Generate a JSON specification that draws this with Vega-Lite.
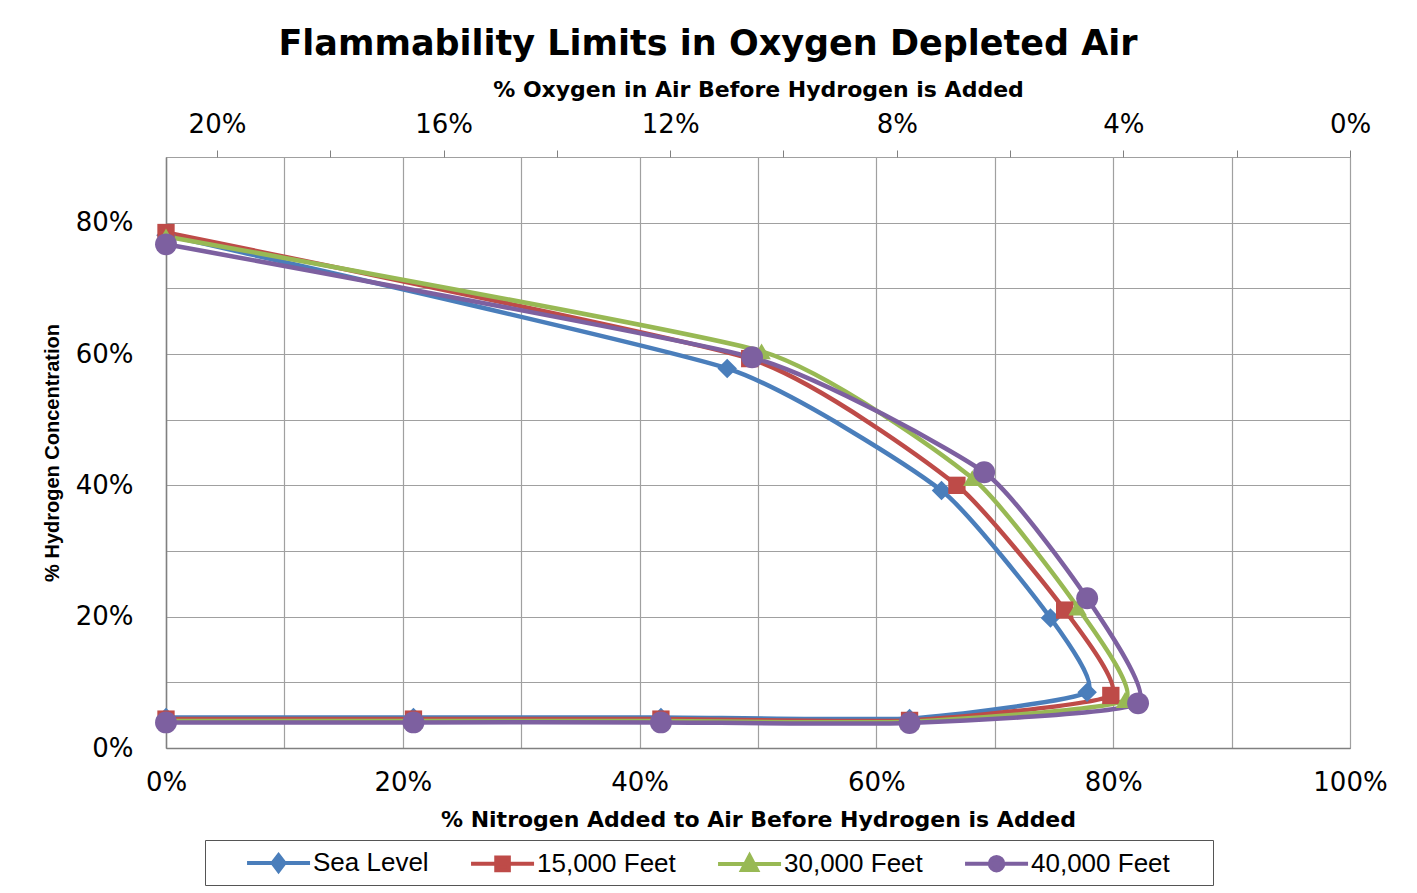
{
  "$schema": "https://vega.github.io/schema/vega-lite/v6.json",
  "width": 1184,
  "height": 591,
  "autosize": {"type": "none"},
  "padding": {"left": 166, "top": 157, "right": 67, "bottom": 145},
  "background": "white",
  "title": {
    "text": "Flammability Limits in Oxygen Depleted Air",
    "font": "DejaVu Sans",
    "fontSize": 35,
    "fontWeight": "bold",
    "color": "#000000",
    "anchor": "middle",
    "dx": -50,
    "offset": 16
  },
  "config": {
    "view": {"stroke": "#a0a0a0", "strokeWidth": 1},
    "axis": {
      "labelFont": "DejaVu Sans",
      "labelFontSize": 26,
      "labelColor": "#000000",
      "titleFont": "DejaVu Sans",
      "titleFontSize": 22,
      "titleFontWeight": "bold",
      "titleColor": "#000000",
      "gridColor": "#a0a0a0",
      "gridWidth": 1.2,
      "domainColor": "#808080",
      "domainWidth": 1.5,
      "tickColor": "#808080"
    },
    "legend": {
      "orient": "none",
      "legendX": 39,
      "legendY": 683,
      "direction": "horizontal",
      "strokeColor": "#555555",
      "fillColor": "#ffffff",
      "padding": 6,
      "labelFont": "Liberation Sans",
      "labelFontSize": 26,
      "labelColor": "#000000",
      "labelLimit": 400,
      "symbolSize": 900,
      "symbolStrokeWidth": 4,
      "labelOffset": 68,
      "columnPadding": 6
    }
  },
  "layer": [
    {
      "data": {
        "values": [
          {"s": "Sea Level", "i": 0, "n": 0, "h": 0.0465},
          {"s": "Sea Level", "i": 1, "n": 0.209, "h": 0.0465},
          {"s": "Sea Level", "i": 2, "n": 0.418, "h": 0.0465},
          {"s": "Sea Level", "i": 3, "n": 0.628, "h": 0.045},
          {"s": "Sea Level", "i": 4, "n": 0.778, "h": 0.085},
          {"s": "Sea Level", "i": 5, "n": 0.747, "h": 0.198},
          {"s": "Sea Level", "i": 6, "n": 0.655, "h": 0.392},
          {"s": "Sea Level", "i": 7, "n": 0.474, "h": 0.578},
          {"s": "Sea Level", "i": 8, "n": 0, "h": 0.781},
          {"s": "15,000 Feet", "i": 0, "n": 0, "h": 0.044},
          {"s": "15,000 Feet", "i": 1, "n": 0.209, "h": 0.044},
          {"s": "15,000 Feet", "i": 2, "n": 0.418, "h": 0.044},
          {"s": "15,000 Feet", "i": 3, "n": 0.628, "h": 0.042},
          {"s": "15,000 Feet", "i": 4, "n": 0.798, "h": 0.08},
          {"s": "15,000 Feet", "i": 5, "n": 0.759, "h": 0.21},
          {"s": "15,000 Feet", "i": 6, "n": 0.668, "h": 0.40},
          {"s": "15,000 Feet", "i": 7, "n": 0.493, "h": 0.593},
          {"s": "15,000 Feet", "i": 8, "n": 0, "h": 0.785},
          {"s": "30,000 Feet", "i": 0, "n": 0, "h": 0.041},
          {"s": "30,000 Feet", "i": 1, "n": 0.209, "h": 0.041},
          {"s": "30,000 Feet", "i": 2, "n": 0.418, "h": 0.041},
          {"s": "30,000 Feet", "i": 3, "n": 0.628, "h": 0.04},
          {"s": "30,000 Feet", "i": 4, "n": 0.81, "h": 0.073},
          {"s": "30,000 Feet", "i": 5, "n": 0.77, "h": 0.214},
          {"s": "30,000 Feet", "i": 6, "n": 0.681, "h": 0.411},
          {"s": "30,000 Feet", "i": 7, "n": 0.503, "h": 0.604},
          {"s": "30,000 Feet", "i": 8, "n": 0, "h": 0.779},
          {"s": "40,000 Feet", "i": 0, "n": 0, "h": 0.039},
          {"s": "40,000 Feet", "i": 1, "n": 0.209, "h": 0.039},
          {"s": "40,000 Feet", "i": 2, "n": 0.418, "h": 0.039},
          {"s": "40,000 Feet", "i": 3, "n": 0.628, "h": 0.038},
          {"s": "40,000 Feet", "i": 4, "n": 0.821, "h": 0.068},
          {"s": "40,000 Feet", "i": 5, "n": 0.778, "h": 0.228},
          {"s": "40,000 Feet", "i": 6, "n": 0.691, "h": 0.42},
          {"s": "40,000 Feet", "i": 7, "n": 0.495, "h": 0.595},
          {"s": "40,000 Feet", "i": 8, "n": 0, "h": 0.767}
        ]
      },
      "encoding": {
        "x": {
          "field": "n",
          "type": "quantitative",
          "scale": {"domain": [0, 1], "nice": false, "zero": false},
          "axis": {
            "orient": "bottom",
            "title": "% Nitrogen Added to Air Before Hydrogen is Added",
            "values": [0, 0.1, 0.2, 0.3, 0.4, 0.5, 0.6, 0.7, 0.8, 0.9, 1],
            "labelExpr": "round(datum.value * 10) % 2 == 0 ? format(datum.value, '.0%') : ''",
            "grid": true,
            "ticks": false,
            "labelPadding": 21,
            "titlePadding": 14,
            "labelFlush": false,
            "labelOverlap": false
          }
        },
        "y": {
          "field": "h",
          "type": "quantitative",
          "scale": {"domain": [0, 0.9], "nice": false, "zero": false},
          "axis": {
            "title": "% Hydrogen Concentration",
            "titleFont": "Liberation Sans",
            "titleFontSize": 20,
            "titlePadding": 13,
            "values": [0, 0.1, 0.2, 0.3, 0.4, 0.5, 0.6, 0.7, 0.8, 0.9],
            "labelExpr": "round(datum.value * 10) % 2 == 0 ? format(datum.value, '.0%') : ''",
            "grid": true,
            "ticks": false,
            "labelPadding": 33,
            "labelFlush": false,
            "labelOverlap": false
          }
        },
        "color": {
          "field": "s",
          "type": "nominal",
          "scale": {
            "domain": ["Sea Level", "15,000 Feet", "30,000 Feet", "40,000 Feet"],
            "range": ["#4A7EBB", "#BE4B48", "#98B954", "#7D60A0"]
          },
          "legend": {
            "title": "\u00a0",
            "titleOrient": "right",
            "titlePadding": 37,
            "titleFontSize": 8,
            "encode": {
              "symbols": {
                "update": {
                  "shape": {"signal": "datum.value == 'Sea Level' ? 'M1.27,0L5.47,0M3.37,-0.52L3.77,0L3.37,0.52L2.97,0Z' : datum.value == '15,000 Feet' ? 'M1.27,0L5.47,0M2.95,-0.42L3.79,-0.42L3.79,0.42L2.95,0.42Z' : datum.value == '30,000 Feet' ? 'M1.27,0L5.47,0M3.37,-0.55L3.87,0.4L2.87,0.4Z' : 'M1.27,0L5.47,0M2.92,0A0.45,0.45 0 1,0 3.82,0A0.45,0.45 0 1,0 2.92,0Z'"},
                  "fill": {"signal": "scale('color', datum.value)"},
                  "stroke": {"signal": "scale('color', datum.value)"},
                  "strokeWidth": {"value": 4},
                  "opacity": {"value": 1},
                  "fillOpacity": {"value": 1}
                }
              }
            }
          }
        }
      },
      "layer": [
        {
          "mark": {"type": "line", "interpolate": "cardinal", "tension": 0.5, "strokeWidth": 4.5},
          "encoding": {"order": {"field": "i", "type": "quantitative"}}
        },
        {
          "transform": [{"filter": "datum.s == 'Sea Level'"}],
          "mark": {"type": "point", "filled": true, "opacity": 1, "shape": "diamond", "size": 380}
        },
        {
          "transform": [{"filter": "datum.s == '15,000 Feet'"}],
          "mark": {"type": "point", "filled": true, "opacity": 1, "shape": "square", "size": 300}
        },
        {
          "transform": [{"filter": "datum.s == '30,000 Feet'"}],
          "mark": {"type": "point", "filled": true, "opacity": 1, "shape": "triangle-up", "size": 340}
        },
        {
          "transform": [{"filter": "datum.s == '40,000 Feet'"}],
          "mark": {"type": "point", "filled": true, "opacity": 1, "shape": "circle", "size": 480}
        }
      ]
    },
    {
      "data": {"values": [{"o": 0}, {"o": 20.9}]},
      "mark": {"type": "rule", "opacity": 0},
      "encoding": {
        "x": {
          "field": "o",
          "type": "quantitative",
          "scale": {"domain": [0, 20.9], "reverse": true, "nice": false, "zero": false},
          "axis": {
            "orient": "top",
            "title": "% Oxygen in Air Before Hydrogen is Added",
            "values": [0, 2, 4, 6, 8, 10, 12, 14, 16, 18, 20],
            "labelExpr": "datum.value % 4 == 0 ? datum.value + '%' : ''",
            "grid": false,
            "domain": false,
            "ticks": true,
            "tickSize": 7,
            "labelPadding": 13,
            "titlePadding": 10,
            "labelFlush": false,
            "labelOverlap": false
          }
        }
      }
    }
  ],
  "resolve": {"scale": {"x": "independent"}}
}
